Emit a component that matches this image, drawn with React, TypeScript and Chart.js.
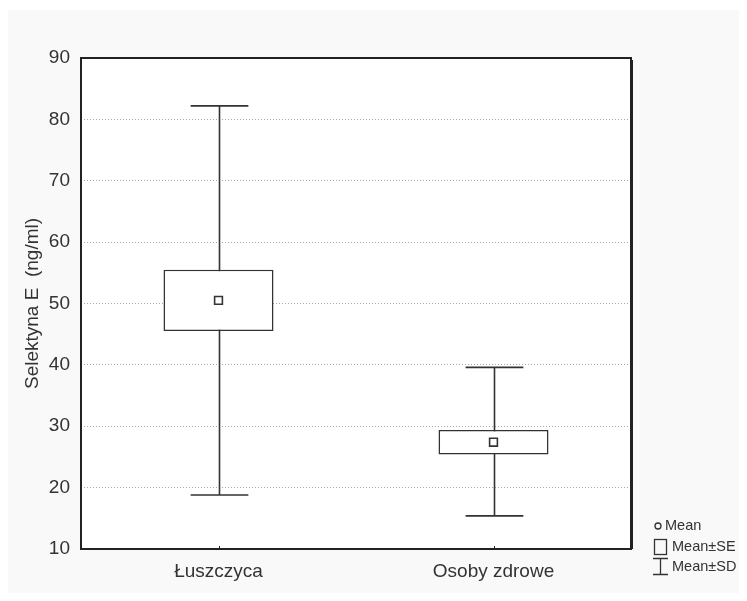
import React, { useEffect, useRef } from "react";
import { Chart, registerables } from "chart.js";

Chart.register(...registerables);

const categories = ["Łuszczyca", "Osoby zdrowe"];
const means = [50.5, 27.4];
const seLow = [45.5, 25.4];
const seHigh = [55.5, 29.4];
const sdLow = [18.8, 15.4];
const sdHigh = [82.2, 39.6];
const yTicks = [10, 20, 30, 40, 50, 60, 70, 80, 90];
const yTitle = "Selektyna E  (ng/ml)";
const legendLabels = ["Mean", "Mean±SE", "Mean±SD"];

const FONT = "'Liberation Sans', Arial, sans-serif";
const INK = "#333";

const bgPlugin = {
  id: "bgPlugin",
  beforeDraw(chart: any) {
    const { ctx, chartArea, width, height } = chart;
    ctx.save();
    ctx.fillStyle = "#f9f9f9";
    ctx.fillRect(0, 2, width, height - 2);
    ctx.fillStyle = "#ffffff";
    ctx.fillRect(chartArea.left, chartArea.top, chartArea.right - chartArea.left, chartArea.bottom - chartArea.top);
    ctx.restore();
  },
};

const whiskerPlugin = {
  id: "whiskerPlugin",
  beforeDatasetsDraw(chart: any) {
    const { ctx, scales } = chart;
    const xs = scales.x;
    const ys = scales.y;
    const catW = (xs.right - xs.left) / categories.length;
    const capHalf = catW * 0.105;
    ctx.save();
    ctx.strokeStyle = INK;
    ctx.lineWidth = 1.6;
    for (let i = 0; i < categories.length; i++) {
      const x = Math.round(xs.getPixelForValue(i)) + 0.5;
      const yLo = ys.getPixelForValue(sdLow[i]);
      const yHi = ys.getPixelForValue(sdHigh[i]);
      ctx.beginPath();
      ctx.moveTo(x, yLo);
      ctx.lineTo(x, yHi);
      ctx.moveTo(x - capHalf, yHi);
      ctx.lineTo(x + capHalf, yHi);
      ctx.moveTo(x - capHalf, yLo);
      ctx.lineTo(x + capHalf, yLo);
      ctx.stroke();
    }
    ctx.restore();
  },
};

const framePlugin = {
  id: "framePlugin",
  afterDraw(chart: any) {
    const { ctx, chartArea, scales } = chart;
    const { left, right, top, bottom } = chartArea;
    ctx.save();
    ctx.strokeStyle = "#222";
    ctx.lineWidth = 2;
    ctx.strokeRect(left, top, right - left, bottom - top);
    ctx.lineWidth = 1;
    ctx.beginPath();
    ctx.moveTo(right + 1.5, top + 2);
    ctx.lineTo(right + 1.5, bottom);
    ctx.stroke();
    // small category tick marks
    const xs = scales.x;
    for (let i = 0; i < categories.length; i++) {
      const x = Math.round(xs.getPixelForValue(i)) + 0.5;
      ctx.beginPath();
      ctx.moveTo(x, bottom);
      ctx.lineTo(x, bottom - 3);
      ctx.stroke();
    }

    // legend
    ctx.fillStyle = INK;
    ctx.strokeStyle = INK;
    ctx.lineWidth = 1.3;
    ctx.font = `14.5px ${FONT}`;
    ctx.textBaseline = "middle";
    ctx.textAlign = "left";
    // Mean
    ctx.beginPath();
    ctx.arc(650, 518, 3, 0, Math.PI * 2);
    ctx.stroke();
    ctx.fillText(legendLabels[0], 657, 518);
    // Mean±SE
    ctx.strokeRect(646.5, 531.5, 12, 15);
    ctx.fillText(legendLabels[1], 664, 539);
    // Mean±SD
    ctx.beginPath();
    ctx.moveTo(645, 550.5);
    ctx.lineTo(660, 550.5);
    ctx.moveTo(652.5, 550.5);
    ctx.lineTo(652.5, 566.5);
    ctx.moveTo(645, 566.5);
    ctx.lineTo(660, 566.5);
    ctx.stroke();
    ctx.fillText(legendLabels[2], 664, 559);
    ctx.restore();
  },
};

export default function App() {
  const ref = useRef<HTMLCanvasElement>(null);

  useEffect(() => {
    if (!ref.current) return;
    const chart = new Chart(ref.current, {
      type: "bar",
      data: {
        labels: categories,
        datasets: [
          {
            type: "line",
            label: "Mean",
            data: means,
            showLine: false,
            pointStyle: "rect",
            pointRadius: 5.5,
            pointBackgroundColor: "#ffffff",
            pointBorderColor: INK,
            pointBorderWidth: 1.6,
            order: 1,
          } as any,
          {
            type: "bar",
            label: "Mean±SE",
            data: categories.map((_, i) => [seLow[i], seHigh[i]]),
            backgroundColor: "#ffffff",
            borderColor: INK,
            borderWidth: 1.6,
            borderSkipped: false,
            barPercentage: 0.4,
            categoryPercentage: 1,
            order: 2,
          } as any,
        ],
      },
      options: {
        responsive: false,
        animation: false,
        devicePixelRatio: 1,
        layout: { padding: { top: 50, right: 116, bottom: 0, left: 0 } },
        plugins: {
          legend: { display: false },
          tooltip: { enabled: false },
        },
        scales: {
          x: {
            type: "category",
            offset: true,
            grid: { display: false, drawTicks: false },
            border: { display: false },
            ticks: {
              color: INK,
              padding: 11,
              font: { family: FONT, size: 19 },
            },
            afterFit: (s: any) => {
              s.height = 52;
            },
          },
          y: {
            min: 10,
            max: 90,
            afterBuildTicks: (s: any) => {
              s.ticks = yTicks.map((v) => ({ value: v }));
            },
            grid: {
              drawTicks: false,
              color: (c: any) =>
                c.tick && (c.tick.value === 10 || c.tick.value === 90) ? "rgba(0,0,0,0)" : "#aaa",
              lineWidth: 1,
            },
            border: { display: false, dash: [1, 2] },
            ticks: {
              color: INK,
              padding: 11,
              font: { family: FONT, size: 19 },
            },
            title: {
              display: true,
              text: yTitle,
              color: INK,
              font: { family: FONT, size: 19 },
              padding: { top: 13, bottom: 0 },
            },
            afterFit: (s: any) => {
              s.width = 73;
            },
          },
        },
      },
      plugins: [bgPlugin, whiskerPlugin, framePlugin],
    });
    return () => chart.destroy();
  }, []);

  return (
    <canvas
      ref={ref}
      width={739}
      height={593}
      style={{ display: "block", marginBottom: -8 }}
    />
  );
}
